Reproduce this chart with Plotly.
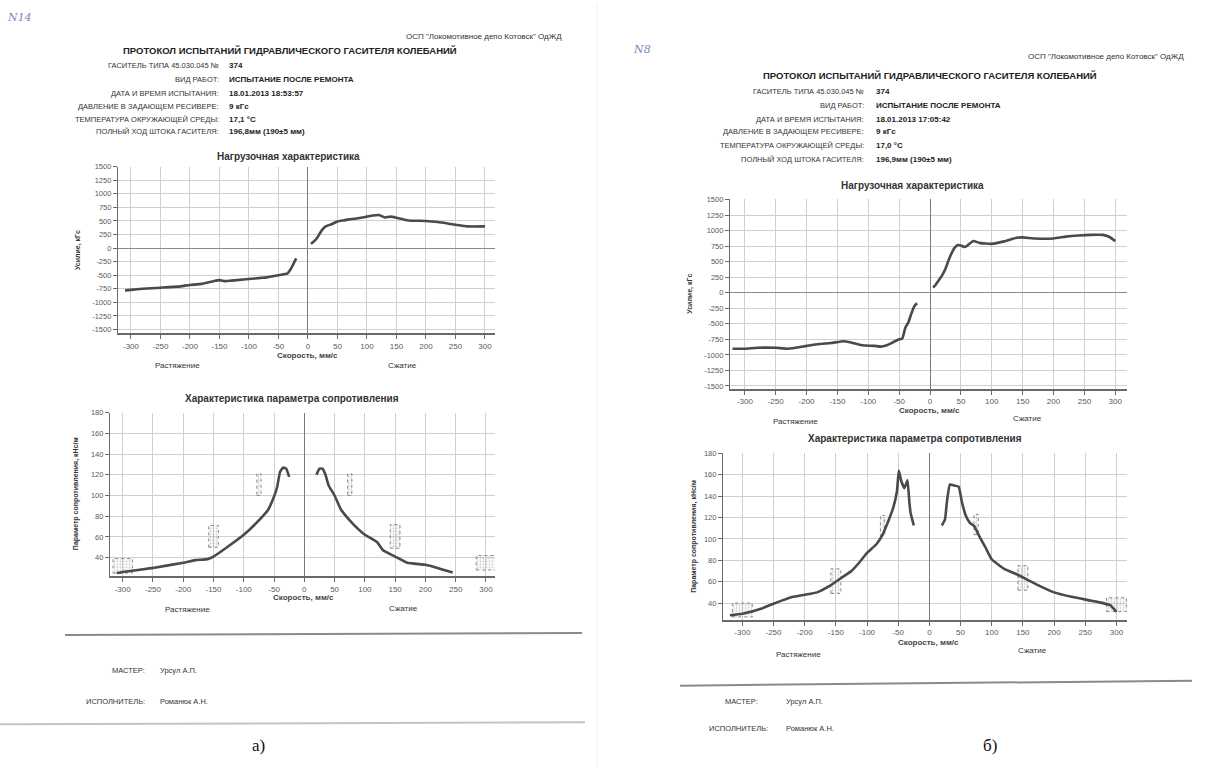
import plotly.graph_objects as go

# ---------------- data ----------------
x_ticks = [-300, -250, -200, -150, -100, -50, 0, 50, 100, 150, 200, 250, 300]
force_ticks = [-1500, -1250, -1000, -750, -500, -250, 0, 250, 500, 750, 1000, 1250, 1500]
resist_ticks = [40, 60, 80, 100, 120, 140, 160, 180]

# (а) load characteristic
a_force_neg_v = [-310, -300, -280, -250, -220, -200, -180, -160, -150, -140, -130, -110, -100, -80, -70, -50, -40, -35, -30, -25, -20]
a_force_neg_f = [-780, -770, -750, -730, -710, -680, -660, -610, -590, -610, -600, -580, -570, -550, -540, -500, -480, -470, -400, -300, -190]
a_force_pos_v = [5, 10, 15, 20, 25, 30, 40, 50, 60, 70, 80, 90, 100, 110, 120, 130, 140, 150, 170, 200, 220, 250, 270, 300]
a_force_pos_f = [80, 120, 180, 270, 350, 400, 440, 490, 510, 530, 540, 560, 580, 600, 610, 565, 580, 560, 510, 500, 480, 430, 400, 400]

# (а) resistance parameter
a_res_neg_v = [-310, -300, -250, -200, -180, -160, -150, -130, -100, -80, -60, -50, -45, -40, -35, -30, -25]
a_res_neg_r = [25, 26, 30, 35, 37.5, 38.5, 41, 49, 62, 73, 86, 99, 108, 123, 127, 126, 118]
a_res_pos_v = [20, 25, 30, 35, 40, 50, 60, 75, 90, 100, 120, 130, 150, 170, 200, 220, 245]
a_res_pos_r = [120, 126, 126, 120, 110, 100, 87, 76, 67, 62, 55, 47, 41, 35, 33, 30, 25.5]

# (б) load characteristic
b_force_neg_v = [-320, -300, -280, -250, -230, -200, -180, -160, -140, -130, -110, -90, -80, -70, -60, -50, -45, -40, -35, -30, -25, -21]
b_force_neg_f = [-900, -900, -885, -885, -900, -855, -826, -808, -780, -797, -844, -855, -867, -844, -797, -750, -738, -562, -475, -328, -211, -170]
b_force_pos_v = [5, 10, 15, 20, 25, 30, 35, 40, 45, 50, 55, 60, 70, 80, 100, 120, 140, 150, 170, 200, 220, 240, 260, 280, 290, 300]
b_force_pos_f = [82, 140, 211, 287, 386, 521, 638, 726, 767, 761, 738, 755, 832, 802, 785, 826, 885, 890, 873, 873, 902, 920, 931, 931, 900, 830]

# (б) resistance parameter
b_res_neg_v = [-320, -300, -270, -250, -220, -200, -180, -160, -140, -125, -110, -100, -85, -75, -65, -58, -52, -49, -45, -40, -37, -35, -32, -30, -25]
b_res_neg_r = [28.6, 30, 34.7, 39.4, 45.6, 47.7, 50, 56, 64, 70, 79.6, 87, 95, 104, 118, 129, 144.5, 164, 154, 147.6, 152, 155, 134, 124, 112.6]
b_res_pos_v = [20, 25, 28, 33, 40, 47, 52, 58, 65, 72, 80, 90, 100, 120, 140, 150, 170, 200, 230, 270, 290, 300]
b_res_pos_r = [112.6, 118, 134, 151, 150, 149, 135, 122.5, 115, 112, 102.7, 92, 81, 72, 67, 64, 58, 50, 45.6, 41, 38, 31.7]

# tolerance zones (centre speed, lower / upper limit)
tol_v = [-300, -150, -75, 75, 150, 300]
a_tol_lo = [25, 50, 100, 100, 49, 28]
a_tol_hi = [39, 71, 121, 121, 72, 42]
b_tol_lo = [27, 49, 103, 104, 52, 32]
b_tol_hi = [40, 72, 122, 123, 75, 45]
tol_halfwidth = [16, 8, 3.5, 3.5, 8, 16]

# ---------------- helpers ----------------
W, H = 1212, 768
def fx(p):
    return p / W
def fy(p):
    return 1 - p / H

FONT = "Liberation Sans"
LINE = "#4a4a4a"

fig = go.Figure()

def add_curve(xv, yv, ax):
    fig.add_trace(go.Scatter(x=xv, y=yv, mode="lines", xaxis="x" + ax, yaxis="y" + ax,
                             line=dict(color=LINE, width=2.6, shape="spline", smoothing=0.4),
                             showlegend=False, hoverinfo="skip"))

def add_tol(lo, hi, ax):
    for c, l, h, w in zip(tol_v, lo, hi, tol_halfwidth):
        fig.add_trace(go.Scatter(x=[c - w, c + w, c + w, c - w, c - w], y=[l, l, h, h, l],
                                 mode="lines", fill="toself", xaxis="x" + ax, yaxis="y" + ax,
                                 fillcolor="rgba(200,200,200,0.35)",
                                 fillpattern=dict(shape=".", size=3, solidity=0.35, fgcolor="#9a9a9a", bgcolor="rgba(255,255,255,0)"),
                                 line=dict(color="#8a8a8a", width=1, dash="dot"),
                                 showlegend=False, hoverinfo="skip"))

add_curve(a_force_neg_v, a_force_neg_f, "")
add_curve(a_force_pos_v, a_force_pos_f, "")
add_tol(a_tol_lo, a_tol_hi, "2")
add_curve(a_res_neg_v, a_res_neg_r, "2")
add_curve(a_res_pos_v, a_res_pos_r, "2")
add_curve(b_force_neg_v, b_force_neg_f, "3")
add_curve(b_force_pos_v, b_force_pos_f, "3")
add_tol(b_tol_lo, b_tol_hi, "4")
add_curve(b_res_neg_v, b_res_neg_r, "4")
add_curve(b_res_pos_v, b_res_pos_r, "4")

def xaxis(dom, rng, anchor):
    return dict(domain=[fx(dom[0]), fx(dom[1])], range=rng, anchor=anchor,
                tickvals=x_ticks, ticktext=[str(t) for t in x_ticks],
                showgrid=True, gridcolor="#cfcfcf", gridwidth=1,
                zeroline=True, zerolinecolor="#7a7a7a", zerolinewidth=1,
                showline=True, linecolor="#6a6a6a", linewidth=1.5,
                ticks="outside", ticklen=4, tickcolor="#6a6a6a",
                tickfont=dict(family=FONT, size=8, color="#5a5a5a"), fixedrange=True)

def yaxis(dom, rng, anchor, ticks, zero):
    return dict(domain=[fy(dom[1]), fy(dom[0])], range=rng, anchor=anchor,
                tickvals=ticks, ticktext=[str(t) for t in ticks],
                showgrid=True, gridcolor="#cfcfcf", gridwidth=1,
                zeroline=zero, zerolinecolor="#8a8a8a", zerolinewidth=1.2,
                showline=True, linecolor="#6a6a6a", linewidth=1.2,
                ticks="outside", ticklen=4, tickcolor="#6a6a6a",
                tickfont=dict(family=FONT, size=7.5, color="#5a5a5a"), fixedrange=True)

fig.update_layout(
    width=W, height=H, autosize=False,
    margin=dict(l=0, r=0, t=0, b=0),
    paper_bgcolor="white", plot_bgcolor="white",
    xaxis=xaxis((118, 495), [-322, 317], "y"),
    yaxis=yaxis((164, 332), [-1573, 1500], "x", force_ticks, True),
    xaxis2=xaxis((110, 495), [-321, 315], "y2"),
    yaxis2=yaxis((412, 577), [21.7, 180], "x2", resist_ticks, False),
    xaxis3=xaxis((730, 1127), [-324, 319], "y3"),
    yaxis3=yaxis((197, 388), [-1548, 1500], "x3", force_ticks, True),
    xaxis4=xaxis((723, 1127), [-331, 317], "y4"),
    yaxis4=yaxis((453, 621), [24, 180], "x4", resist_ticks, False),
)

ann = []
def text(x, y, s, size=8, bold=False, color="#222", xanchor="center", angle=0, family=FONT, italic=False):
    if bold:
        s = "<b>" + s + "</b>"
    if italic:
        s = "<i>" + s + "</i>"
    ann.append(dict(x=fx(x), y=fy(y), xref="paper", yref="paper", text=s, showarrow=False,
                    xanchor=xanchor, yanchor="middle", textangle=angle,
                    font=dict(family=family, size=size, color=color)))

fields_lbl = ["ГАСИТЕЛЬ ТИПА 45.030.045 №", "ВИД РАБОТ:", "ДАТА И ВРЕМЯ ИСПЫТАНИЯ:",
              "ДАВЛЕНИЕ В ЗАДАЮЩЕМ РЕСИВЕРЕ:", "ТЕМПЕРАТУРА ОКРУЖАЮЩЕЙ СРЕДЫ:", "ПОЛНЫЙ ХОД ШТОКА ГАСИТЕЛЯ:"]
a_vals = ["374", "ИСПЫТАНИЕ ПОСЛЕ РЕМОНТА", "18.01.2013 18:53:57", "9 кГс", "17,1 °C", "196,8мм (190±5 мм)"]
b_vals = ["374", "ИСПЫТАНИЕ ПОСЛЕ РЕМОНТА", "18.01.2013 17:05:42", "9 кГс", "17,0 °C", "196,9мм (190±5 мм)"]

def page(vals, hand, lab_x, val_x, rows, osp, title_c):
    text(hand[0], hand[1], hand[2], size=11, color="#7b86c4", family="DejaVu Serif", italic=True)
    text(osp[0], osp[1], 'ОСП "Локомотивное депо Котовск" ОдЖД', size=8, xanchor="right", color="#333")
    text(title_c[0], title_c[1], "ПРОТОКОЛ ИСПЫТАНИЙ ГИДРАВЛИЧЕСКОГО ГАСИТЕЛЯ КОЛЕБАНИЙ", size=9.5, bold=True, color="#222")
    for l, v, r in zip(fields_lbl, vals, rows):
        text(lab_x, r, l, size=7.5, xanchor="right", color="#333")
        text(val_x, r, v, size=8, bold=True, xanchor="left", color="#222")

page(a_vals, (20, 14, "N14"), 221, 227, [62, 76, 90, 103, 116, 129], (564, 33), (290, 47))
page(b_vals, (642, 46, "N8"), 866, 874, [88, 102, 116, 129, 143, 157], (1186, 53), (930, 72))

# chart labels (а)
text(288, 154, "Нагрузочная характеристика", size=10, bold=True, color="#333")
text(78, 248, "Усилие, кГс", size=7, bold=True, angle=-90, color="#333")
text(307, 354, "Скорость, мм/с", size=8, bold=True, color="#444")
text(177, 364, "Растяжение", size=8, color="#333")
text(402, 364, "Сжатие", size=8, color="#333")
text(292, 398, "Характеристика параметра сопротивления", size=10, bold=True, color="#333")
text(76, 494, "Параметр сопротивления, кНс/м", size=7, bold=True, angle=-90, color="#333")
text(303, 598, "Скорость, мм/с", size=8, bold=True, color="#444")
text(187, 610, "Растяжение", size=8, color="#333")
text(403, 609, "Сжатие", size=8, color="#333")

# chart labels (б)
text(912, 183, "Нагрузочная характеристика", size=10, bold=True, color="#333")
text(690, 292, "Усилие, кГс", size=7, bold=True, angle=-90, color="#333")
text(929, 410, "Скорость, мм/с", size=8, bold=True, color="#444")
text(795, 421, "Растяжение", size=8, color="#333")
text(1027, 418, "Сжатие", size=8, color="#333")
text(915, 438, "Характеристика параметра сопротивления", size=10, bold=True, color="#333")
text(694, 537, "Параметр сопротивления, кНс/м", size=7, bold=True, angle=-90, color="#333")
text(928, 644, "Скорость, мм/с", size=8, bold=True, color="#444")
text(798, 656, "Растяжение", size=8, color="#333")
text(1032, 652, "Сжатие", size=8, color="#333")

# footers
text(147, 672, "МАСТЕР:", size=7.5, xanchor="right", color="#333")
text(158, 672, "Урсул А.П.", size=7.5, xanchor="left", color="#333")
text(147, 703, "ИСПОЛНИТЕЛЬ:", size=7.5, xanchor="right", color="#333")
text(158, 703, "Романюк А.Н.", size=7.5, xanchor="left", color="#333")
text(760, 703, "МАСТЕР:", size=7.5, xanchor="right", color="#333")
text(784, 703, "Урсул А.П.", size=7.5, xanchor="left", color="#333")
text(770, 730, "ИСПОЛНИТЕЛЬ:", size=7.5, xanchor="right", color="#333")
text(784, 730, "Романюк А.Н.", size=7.5, xanchor="left", color="#333")
text(258, 747, "а)", size=17, color="#111", family="Liberation Serif")
text(990, 747, "б)", size=17, color="#111", family="Liberation Serif")

fig.update_layout(annotations=ann)

shapes = [
    dict(type="line", xref="paper", yref="paper", x0=fx(65), x1=fx(582), y0=fy(636), y1=fy(634),
         line=dict(color="#8a8a8a", width=2)),
    dict(type="line", xref="paper", yref="paper", x0=fx(0), x1=fx(585), y0=fy(726), y1=fy(724),
         line=dict(color="#c4c4c4", width=2)),
    dict(type="line", xref="paper", yref="paper", x0=fx(680), x1=fx(1192), y0=fy(687), y1=fy(682),
         line=dict(color="#8a8a8a", width=2)),
    dict(type="line", xref="paper", yref="paper", x0=fx(597), x1=fx(597), y0=fy(0), y1=fy(768),
         line=dict(color="#f0f0f0", width=1)),
]
fig.update_layout(shapes=shapes)

fig.write_html("out.html")
